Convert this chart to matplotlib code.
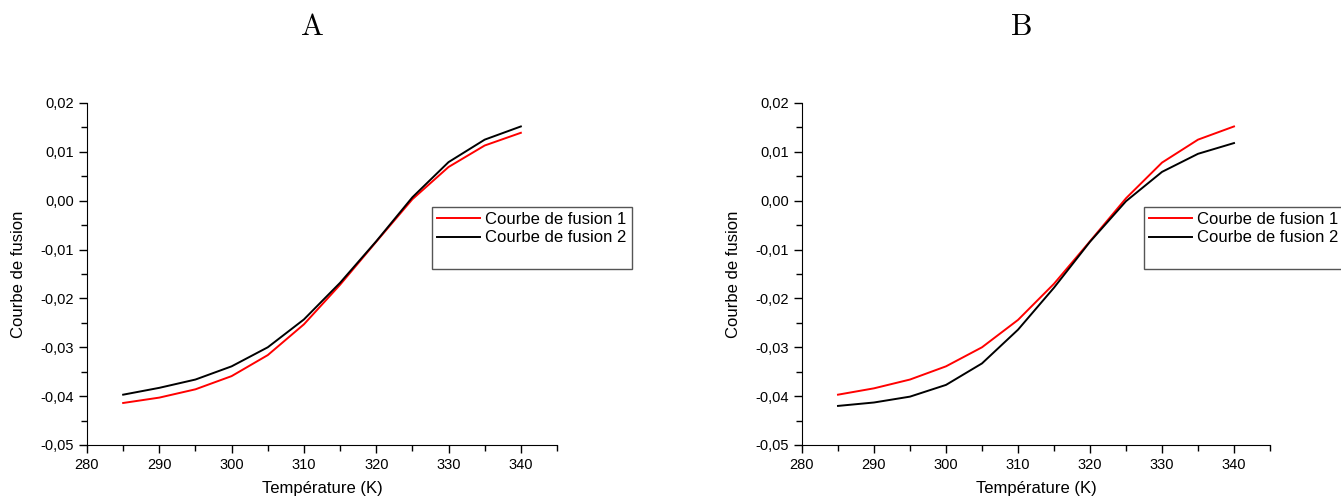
import matplotlib
matplotlib.use("Agg")
import matplotlib.pyplot as plt
from matplotlib.lines import Line2D
from matplotlib.ticker import MultipleLocator, FuncFormatter

temp = [285, 290, 295, 300, 305, 310, 315, 320, 325, 330, 335, 340]

# panel A
a_fusion1 = [-0.0414, -0.0403, -0.0386, -0.0359, -0.0316, -0.0253, -0.0172, -0.0084, 0.0003, 0.0069, 0.0113, 0.0139]
a_fusion2 = [-0.0397, -0.0383, -0.0366, -0.0339, -0.0300, -0.0243, -0.0168, -0.0083, 0.0007, 0.0079, 0.0125, 0.0152]

# panel B
b_fusion1 = [-0.0397, -0.0384, -0.0366, -0.0339, -0.0300, -0.0244, -0.0170, -0.0083, 0.0005, 0.0078, 0.0125, 0.0152]
b_fusion2 = [-0.0420, -0.0413, -0.0401, -0.0377, -0.0333, -0.0264, -0.0178, -0.0084, -0.0001, 0.0059, 0.0096, 0.0118]

titles = ["A", "B"]
labels = ["Courbe de fusion 1", "Courbe de fusion 2"]

plt.rcParams['font.family'] = ['Liberation Sans', 'DejaVu Sans']

W, H = 1341, 499
fig = plt.figure(figsize=(W / 100, H / 100), dpi=100)


def comma(v, pos):
    s = "%.2f" % v
    if s == "-0.00":
        s = "0.00"
    return s.replace(".", ",")


def panel(left, right, title, title_x, y1, y2, leg_x):
    ax = fig.add_axes([left / W, 1 - 445 / H, (right - left) / W, (445 - 103) / H])
    ax.plot(temp, y1, color="#ff0000", lw=1.4, label=labels[0])
    ax.plot(temp, y2, color="black", lw=1.4, label=labels[1])
    ax.set_xlim(280, 345)
    ax.set_ylim(-0.05, 0.02)
    ax.xaxis.set_major_locator(MultipleLocator(10))
    ax.xaxis.set_minor_locator(MultipleLocator(5))
    ax.yaxis.set_major_locator(MultipleLocator(0.01))
    ax.yaxis.set_minor_locator(MultipleLocator(0.005))
    ax.yaxis.set_major_formatter(FuncFormatter(comma))
    for s in ["top", "right"]:
        ax.spines[s].set_visible(False)
    ax.tick_params(which="major", direction="out", length=6, width=1, labelsize=10.5)
    ax.tick_params(which="minor", direction="out", length=4, width=1)
    ax.set_xlabel("Température (K)", fontsize=12, labelpad=6)
    ax.set_ylabel("Courbe de fusion", fontsize=12, labelpad=10)
    fig.text(title_x / W, 1 - 27 / H, title, fontsize=22,
             family="cmr10", ha="center", va="center")
    handles, labs = ax.get_legend_handles_labels()
    handles.append(Line2D([], [], color="none"))
    labs.append(" ")
    leg = ax.legend(handles, labs, loc="upper left",
                    bbox_to_anchor=(leg_x / W, 1 - 207 / H),
                    bbox_transform=fig.transFigure, fontsize=12,
                    fancybox=False, framealpha=1, edgecolor="#555555",
                    handlelength=2.6, handletextpad=0.3, borderpad=0.3,
                    labelspacing=0.2, borderaxespad=0)
    leg.get_frame().set_linewidth(1)
    return ax


panel(87, 557, titles[0], 312, a_fusion1, a_fusion2, 432)
panel(802, 1270, titles[1], 1022, b_fusion1, b_fusion2, 1144)

fig.savefig("out.png", dpi=100)
